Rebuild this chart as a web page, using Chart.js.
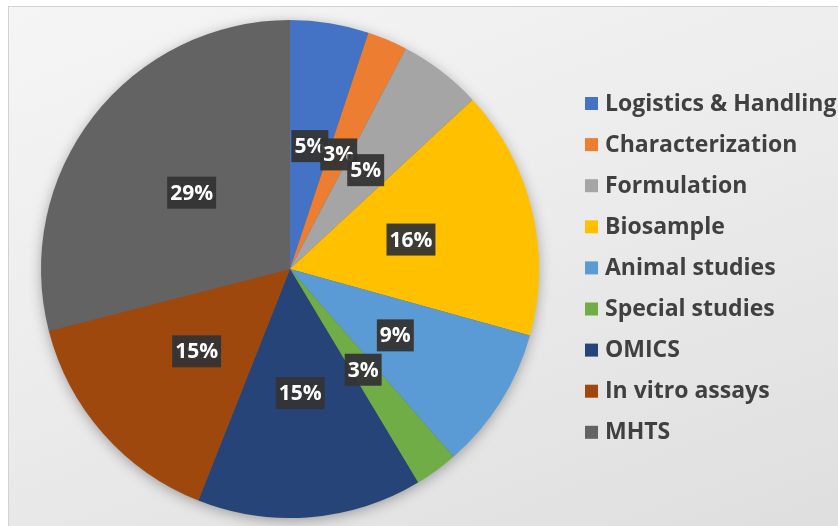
<!DOCTYPE html>
<html>
<head>
<meta charset="utf-8">
<script src="https://cdn.jsdelivr.net/npm/chart.js@4/dist/chart.umd.min.js"></script>
<style>
  html, body { margin: 0; padding: 0; background: #fff; }
  #frame {
    position: absolute; left: 8px; top: 6px; width: 840px; height: 530px;
    border: 1px solid #d2d2d2;
    background: linear-gradient(160deg, #f5f5f5 0%, #ececec 45%, #dedede 100%);
  }
  #pie { position: absolute; left: 0; top: 0; }
</style>
</head>
<body>
<div id="frame"></div>
<canvas id="pie" width="838" height="526"></canvas>
<script>
const categories = ['Logistics & Handling', 'Characterization', 'Formulation', 'Biosample',
    'Animal studies', 'Special studies', 'OMICS', 'In vitro assays', 'MHTS'];
const shares = [5.1, 2.6, 5.4, 16.2, 9.3, 2.8, 14.6, 15.0, 29.0];
const colors = ['#4472C4', '#ED7D31', '#A5A5A5', '#FFC000', '#5B9BD5',
    '#70AD47', '#264478', '#9E480E', '#636363'];

const fontName = '"Open Sans", Lato, sans-serif';

// soft shadow under the whole pie
const pieShadow = {
    id: 'pieShadow',
    beforeDatasetsDraw(chart) {
        const arc = chart.getDatasetMeta(0).data[0];
        if (!arc) return;
        const ctx = chart.ctx;
        ctx.save();
        ctx.shadowColor = 'rgba(0,0,0,0.35)';
        ctx.shadowBlur = 14;
        ctx.shadowOffsetY = 3;
        ctx.fillStyle = '#636363';
        ctx.beginPath();
        ctx.arc(arc.x, arc.y, arc.outerRadius - 1, 0, Math.PI * 2);
        ctx.fill();
        ctx.restore();
    }
};

const pctLabels = {
    id: 'pctLabels',
    afterDatasetsDraw(chart) {
        const ctx = chart.ctx;
        const meta = chart.getDatasetMeta(0);
        ctx.save();
        ctx.font = 'bold 21px ' + fontName;
        ctx.textAlign = 'center';
        ctx.textBaseline = 'middle';
        meta.data.forEach((arc, i) => {
            const p = arc.tooltipPosition();
            const txt = Math.round(shares[i]) + '%';
            const w = ctx.measureText(txt).width + 6;
            const h = 32;
            ctx.fillStyle = 'rgba(52,52,52,0.95)';
            ctx.fillRect(p.x - w / 2, p.y - h / 2, w, h);
            ctx.fillStyle = '#ffffff';
            ctx.fillText(txt, p.x, p.y + 1);
        });
        ctx.restore();
    }
};

const sideLegend = {
    id: 'sideLegend',
    afterDraw(chart) {
        const ctx = chart.ctx;
        ctx.save();
        ctx.font = 'bold 23px ' + fontName;
        ctx.textBaseline = 'middle';
        categories.forEach((name, i) => {
            const y = 104 + i * 41.1;
            ctx.fillStyle = colors[i];
            ctx.fillRect(585, y - 7, 13, 13);
            ctx.fillStyle = '#404040';
            ctx.fillText(name, 605, y);
        });
        ctx.restore();
    }
};

new Chart(document.getElementById('pie'), {
    type: 'pie',
    data: {
        labels: categories,
        datasets: [{
            data: shares,
            backgroundColor: colors,
            borderWidth: 0
        }]
    },
    options: {
        responsive: false,
        animation: false,
        layout: { padding: { left: 41, right: 299, top: 20, bottom: 8 } },
        plugins: {
            legend: { display: false },
            tooltip: { enabled: false }
        }
    },
    plugins: [pieShadow, pctLabels, sideLegend]
});
</script>
</body>
</html>
